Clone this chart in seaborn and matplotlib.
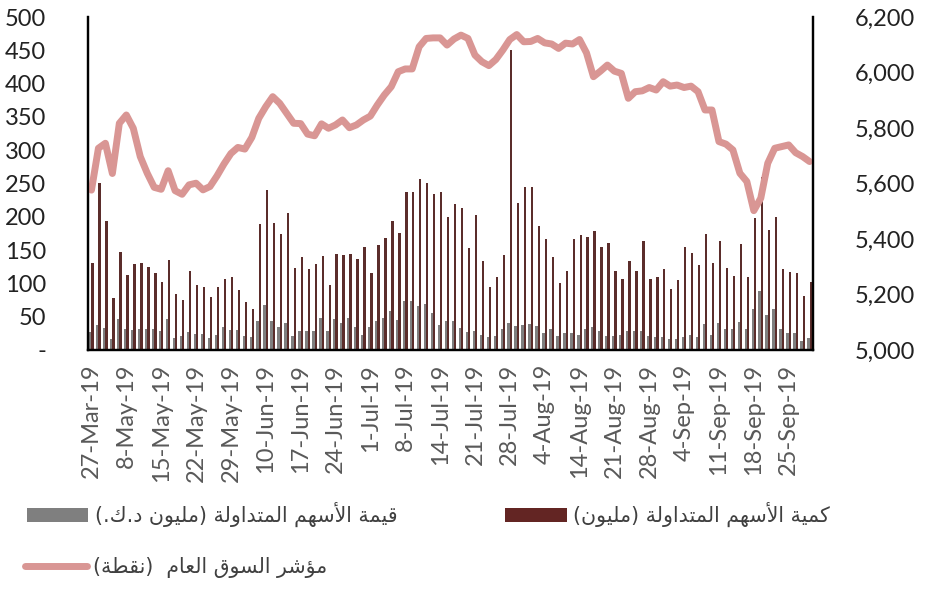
import numpy as np
import pandas as pd
import matplotlib
matplotlib.use("Agg")
import matplotlib.pyplot as plt
from matplotlib.patches import Patch
from matplotlib.lines import Line2D
import seaborn as sns

# data (one entry per trading day)
volume = [130, 250, 193, 78, 147, 113, 129, 130, 125, 116, 102, 135, 84, 75, 118, 97, 95,
          80, 94, 107, 110, 90, 72, 61, 189, 240, 191, 174, 205, 123, 139, 121, 129, 141,
          98, 144, 142, 144, 137, 155, 116, 158, 168, 193, 175, 237, 237, 257, 250, 234, 237,
          200, 219, 213, 153, 202, 133, 95, 109, 143, 450, 220, 245, 245, 186, 167, 139, 100,
          118, 167, 173, 170, 178, 155, 160, 118, 106, 134, 119, 163, 107, 109, 121, 92, 105,
          154, 145, 127, 174, 130, 164, 123, 111, 159, 110, 198, 260, 180, 199, 121, 117, 115,
          81, 102]
value = [27, 37, 33, 16, 46, 32, 30, 32, 32, 31, 29, 46, 18, 21, 27, 24, 24,
         18, 22, 34, 30, 30, 21, 19, 43, 68, 44, 34, 40, 21, 28, 28, 28, 48,
         28, 46, 40, 48, 34, 23, 34, 43, 48, 58, 45, 74, 74, 66, 69, 56, 37,
         43, 43, 33, 27, 29, 22, 20, 21, 31, 40, 36, 37, 39, 36, 25, 32, 21,
         25, 25, 23, 32, 34, 28, 21, 21, 22, 28, 29, 29, 21, 19, 20, 17, 17,
         19, 22, 19, 39, 22, 40, 31, 32, 42, 31, 61, 89, 52, 61, 31, 25, 25,
         14, 18]
index = [5576, 5727, 5745, 5636, 5817, 5847, 5799, 5697, 5637, 5586, 5579, 5646, 5574, 5561,
         5595, 5601, 5577, 5589, 5627, 5670, 5708, 5730, 5724, 5766, 5835, 5877, 5913, 5889,
         5853, 5817, 5816, 5778, 5772, 5815, 5799, 5811, 5829, 5801, 5811, 5829, 5843, 5883,
         5919, 5949, 6003, 6013, 6013, 6093, 6123, 6125, 6125, 6099, 6121, 6135, 6123, 6063,
         6039, 6025, 6047, 6081, 6119, 6137, 6111, 6112, 6123, 6107, 6103, 6087, 6106, 6103,
         6119, 6071, 5985, 6005, 6027, 6005, 5997, 5907, 5931, 5934, 5946, 5937, 5967, 5951,
         5955, 5946, 5951, 5931, 5865, 5865, 5751, 5742, 5721, 5637, 5607, 5502, 5547, 5673,
         5727, 5733, 5739, 5711, 5697, 5679]
tick_labels = ['27-Mar-19', '8-May-19', '15-May-19', '22-May-19', '29-May-19', '10-Jun-19',
               '17-Jun-19', '24-Jun-19', '1-Jul-19', '8-Jul-19', '14-Jul-19', '21-Jul-19',
               '28-Jul-19', '4-Aug-19', '14-Aug-19', '21-Aug-19', '28-Aug-19', '4-Sep-19',
               '11-Sep-19', '18-Sep-19', '25-Sep-19']
lbl_value = 'قيمة الأسهم المتداولة (مليون د.ك.)'
lbl_volume = 'كمية الأسهم المتداولة (مليون)'
lbl_index = 'مؤشر السوق العام  (نقطة)'

C_VALUE = '#7f7f7f'
C_VOLUME = '#632523'
C_INDEX = '#d99694'


# matplotlib has no arabic shaping -> map to presentation forms, reverse for display
FORMS = {}
_letters = ([(0x621, 1), (0x622, 2), (0x623, 2), (0x624, 2), (0x625, 2), (0x626, 4),
             (0x627, 2), (0x628, 4), (0x629, 2)] + [(c, 4) for c in range(0x62A, 0x62F)]
            + [(0x62F, 2), (0x630, 2), (0x631, 2), (0x632, 2)]
            + [(c, 4) for c in range(0x633, 0x63B)] + [(c, 4) for c in range(0x641, 0x648)]
            + [(0x648, 2), (0x649, 2), (0x64A, 4)])
_b = 0xFE80
for c, k in _letters:
    FORMS[c] = (_b, k)
    _b += k
LAM_ALEF = {'\u0627': 0xFEFB, '\u0623': 0xFEF7, '\u0625': 0xFEF9, '\u0622': 0xFEF5}


def shape(text):
    ch = list(text)
    n = len(ch)
    dual = lambda c: ord(c) in FORMS and FORMS[ord(c)][1] == 4
    res = []
    i = 0
    while i < n:
        c = ch[i]
        conn_prev = i > 0 and dual(ch[i - 1])
        if c == '\u0644' and i + 1 < n and ch[i + 1] in LAM_ALEF:
            res.append(chr(LAM_ALEF[ch[i + 1]] + (1 if conn_prev else 0)))
            i += 2
            continue
        if ord(c) not in FORMS:
            res.append(c)
            i += 1
            continue
        base, k = FORMS[ord(c)]
        conn_next = k == 4 and i + 1 < n and ord(ch[i + 1]) in FORMS and FORMS[ord(ch[i + 1])][1] > 1
        if k == 1:
            f = 0
        elif conn_prev and conn_next:
            f = 3
        elif conn_prev:
            f = 1
        elif conn_next:
            f = 2
        else:
            f = 0
        res.append(chr(base + f))
        i += 1
    return ''.join(reversed(res)).translate(str.maketrans('()', ')('))


sns.set_style('white')
plt.rcParams['font.family'] = ['Lato', 'DejaVu Sans']

n = len(volume)
df = pd.DataFrame({
    'day': list(range(n)) * 2,
    'amount': value + volume,
    'series': ['value'] * n + ['volume'] * n,
})

fig = plt.figure(figsize=(9.25, 5.89), dpi=100)
fig.subplots_adjust(left=0.0951, right=0.879, top=0.971, bottom=0.406)
ax = fig.add_subplot(111)

sns.barplot(data=df, x='day', y='amount', hue='series', hue_order=['value', 'volume'],
            palette=[C_VALUE, C_VOLUME], width=0.66, gap=0, linewidth=0,
            errorbar=None, legend=False, ax=ax)

ax2 = ax.twinx()
sns.lineplot(x=np.arange(n), y=index, ax=ax2, color=C_INDEX, linewidth=5,
             solid_joinstyle='round', solid_capstyle='round')

ax.set_xlim(-0.5, n - 0.5)
ax.set_ylim(0, 500)
ax2.set_ylim(5000, 6200)

ax.set_xticks(range(0, n, 5))
ax.set_xticklabels(tick_labels, rotation=90, fontsize=17, color='#595959')
ax.set_yticks(range(0, 501, 50))
ax.set_yticklabels(['-'] + [str(v) for v in range(50, 501, 50)], fontsize=17, color='#222222')
ax2.set_yticks(range(5000, 6201, 200))
ax2.set_yticklabels([f'{v:,}' for v in range(5000, 6201, 200)], fontsize=17, color='#222222')
ax.set_xlabel('')
ax.set_ylabel('')
ax2.set_ylabel('')

ax.tick_params(axis='both', length=0)
ax.tick_params(axis='x', pad=10)
ax.tick_params(axis='y', pad=30)
ax2.tick_params(axis='y', length=0, pad=30)

for a in (ax, ax2):
    a.spines['top'].set_visible(False)
    for s in ('left', 'right', 'bottom'):
        a.spines[s].set_color('black')
        a.spines[s].set_linewidth(1.6)
    a.grid(False)

leg_font = {'family': 'DejaVu Sans', 'size': 14.8}
h_value = Patch(facecolor=C_VALUE, edgecolor='none')
h_volume = Patch(facecolor=C_VOLUME, edgecolor='none')
h_index = Line2D([], [], color=C_INDEX, linewidth=5, solid_capstyle='round')

for h, lab, xy in [(h_value, lbl_value, (0.029, 0.126)),
                   (h_volume, lbl_volume, (0.546, 0.126)),
                   (h_index, lbl_index, (0.027, 0.036))]:
    fig.legend([h], [shape(lab)], loc='center left', bbox_to_anchor=xy, frameon=False,
               prop=leg_font, handlelength=3.0, handleheight=0.7, handletextpad=0.3,
               borderpad=0, borderaxespad=0, labelcolor='#404040')

fig.savefig('out.png', dpi=100)
